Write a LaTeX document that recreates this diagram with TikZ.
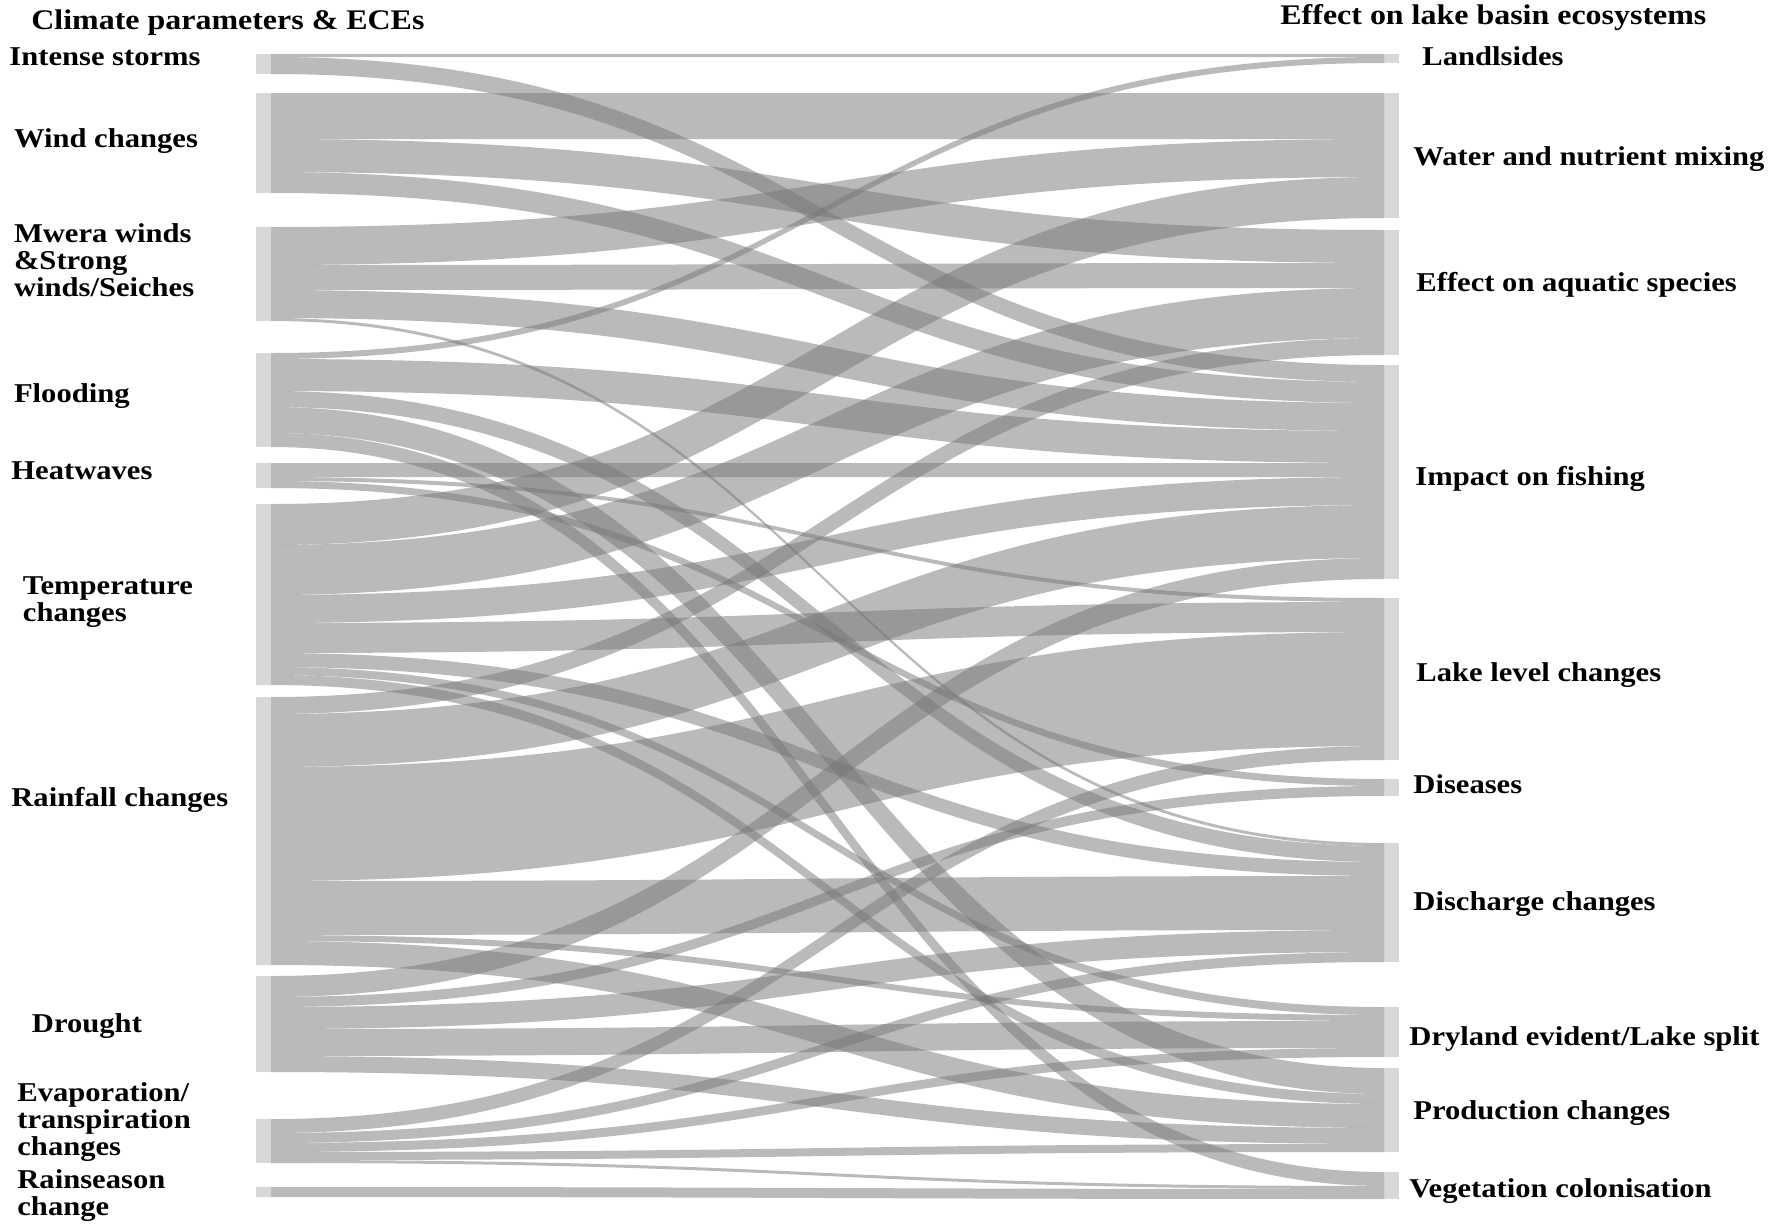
\documentclass[tikz,border=0pt]{standalone}
\usepackage{graphicx}
\usepackage{fontspec}
\setmainfont{Liberation Serif}
\definecolor{bandc}{HTML}{777777}
\definecolor{barc}{HTML}{D8D8D8}
\newcommand\skflow[3]{%
  \pgfmathsetmacro\skSa{\csname skoff#1\endcsname}%
  \pgfmathsetmacro\skTa{\csname skoff#2\endcsname}%
  \pgfmathsetmacro\skSb{\skSa+#3}%
  \pgfmathsetmacro\skTb{\skTa+#3}%
  \fill[band] (271,\skSa) .. controls (827.5,\skSa) and (827.5,\skTa) .. (1384,\skTa)
    -- (1384,\skTb) .. controls (827.5,\skTb) and (827.5,\skSb) .. (271,\skSb) -- cycle;
  \expandafter\xdef\csname skoff#1\endcsname{\skSb}%
  \expandafter\xdef\csname skoff#2\endcsname{\skTb}%
}
\newcommand\sknode[4]{% name, side x, top, height
  \expandafter\xdef\csname skoff#1\endcsname{#3}%
  \node[bar, minimum height=#4*0.5pt, anchor=north west] (#1) at (#2,#3) {};
}
\newcommand\sklt[1]{\scalebox{1.125}[1]{#1}}
\begin{document}
\begin{tikzpicture}[x=0.5pt,y=-0.5pt,
  band/.style={fill=bandc, fill opacity=0.5},
  bar/.style={fill=barc, draw=none, minimum width=7.5pt, inner sep=0pt, outer sep=0pt},
  lab/.style={font=\fontsize{13.6}{16}\selectfont\bfseries, anchor=base west, inner sep=0pt},
  hlab/.style={font=\fontsize{14.2}{16}\selectfont\bfseries, anchor=base west, inner sep=0pt}]
\useasboundingbox (0,0) rectangle (1772,1226);
\fill[white] (0,0) rectangle (1772,1226);
% source nodes
\sknode{IS}{256}{54}{20}
\sknode{WC}{256}{93}{100}
\sknode{MW}{256}{227}{94}
\sknode{FL}{256}{353}{94}
\sknode{HW}{256}{463}{25}
\sknode{TC}{256}{504}{181}
\sknode{RF}{256}{697}{268}
\sknode{DR}{256}{976}{96}
\sknode{EV}{256}{1119}{44}
\sknode{RS}{256}{1187}{10}
% target nodes
\sknode{L}{1384}{54}{9}
\sknode{W}{1384}{93}{125}
\sknode{A}{1384}{230}{125}
\sknode{F}{1384}{365}{214}
\sknode{LL}{1384}{598}{162}
\sknode{Di}{1384}{779}{17}
\sknode{Dc}{1384}{843}{119}
\sknode{Dr}{1384}{1007}{50}
\sknode{P}{1384}{1068}{84}
\sknode{V}{1384}{1172}{27}
% flows
\skflow{IS}{L}{3}\skflow{IS}{F}{17}
\skflow{WC}{W}{46}\skflow{WC}{A}{33}\skflow{WC}{F}{21}
\skflow{MW}{W}{38}\skflow{MW}{A}{25}\skflow{MW}{F}{28}\skflow{MW}{Dc}{3}
\skflow{FL}{L}{6}\skflow{FL}{F}{32}\skflow{FL}{Dc}{16}\skflow{FL}{P}{26}\skflow{FL}{V}{14}
\skflow{HW}{F}{14}\skflow{HW}{LL}{4}\skflow{HW}{Di}{7}
\skflow{TC}{W}{41}\skflow{TC}{A}{50}\skflow{TC}{F}{28}\skflow{TC}{LL}{30}\skflow{TC}{Dc}{14}\skflow{TC}{Dr}{8}\skflow{TC}{P}{10}
\skflow{RF}{A}{17}\skflow{RF}{F}{53}\skflow{RF}{LL}{114}\skflow{RF}{Dc}{54}\skflow{RF}{Dr}{6}\skflow{RF}{P}{24}
\skflow{DR}{F}{21}\skflow{DR}{Di}{10}\skflow{DR}{Dc}{22}\skflow{DR}{Dr}{27}\skflow{DR}{P}{16}
\skflow{EV}{LL}{14}\skflow{EV}{Dc}{10}\skflow{EV}{Dr}{9}\skflow{EV}{P}{8}\skflow{EV}{V}{3}
\skflow{RS}{V}{10}
% headers
\node[hlab] (h1) at (31,29) {\sklt{Climate parameters \& ECEs}};
\node[hlab] (h2) at (1280,25) {\sklt{Effect on lake basin ecosystems}};
% left labels
\node[lab] (tIS) at (9,65.5) {\sklt{Intense storms}};
\node[lab] (tWC) at (13.6,147) {\sklt{Wind changes}};
\node[lab] (tMW1) at (13.6,242) {\sklt{Mwera winds}};
\node[lab] (tMW2) at (13.6,269) {\sklt{\&Strong}};
\node[lab] (tMW3) at (13.6,296) {\sklt{winds/Seiches}};
\node[lab] (tFL) at (13.6,402) {\sklt{Flooding}};
\node[lab] (tHW) at (11,479) {\sklt{Heatwaves}};
\node[lab] (tTC1) at (22.6,594) {\sklt{Temperature}};
\node[lab] (tTC2) at (22.6,621.5) {\sklt{changes}};
\node[lab] (tRF) at (11,806) {\sklt{Rainfall changes}};
\node[lab] (tDR) at (31.6,1032) {\sklt{Drought}};
\node[lab] (tEV1) at (17,1101) {\sklt{Evaporation/}};
\node[lab] (tEV2) at (17,1128) {\sklt{transpiration}};
\node[lab] (tEV3) at (17,1155) {\sklt{changes}};
\node[lab] (tRS1) at (17,1188) {\sklt{Rainseason}};
\node[lab] (tRS2) at (17,1215) {\sklt{change}};
% right labels
\node[lab] (tL) at (1422,65.5) {\sklt{Landlsides}};
\node[lab] (tW) at (1413,165) {\sklt{Water and nutrient mixing}};
\node[lab] (tA) at (1416,291.5) {\sklt{Effect on aquatic species}};
\node[lab] (tF) at (1415,485) {\sklt{Impact on fishing}};
\node[lab] (tLL) at (1416,681) {\sklt{Lake level changes}};
\node[lab] (tDi) at (1413,793) {\sklt{Diseases}};
\node[lab] (tDc) at (1413,910) {\sklt{Discharge changes}};
\node[lab] (tDr) at (1409,1045) {\sklt{Dryland evident/Lake split}};
\node[lab] (tP) at (1413,1119) {\sklt{Production changes}};
\node[lab] (tV) at (1409,1197) {\sklt{Vegetation colonisation}};
\end{tikzpicture}
\end{document}
